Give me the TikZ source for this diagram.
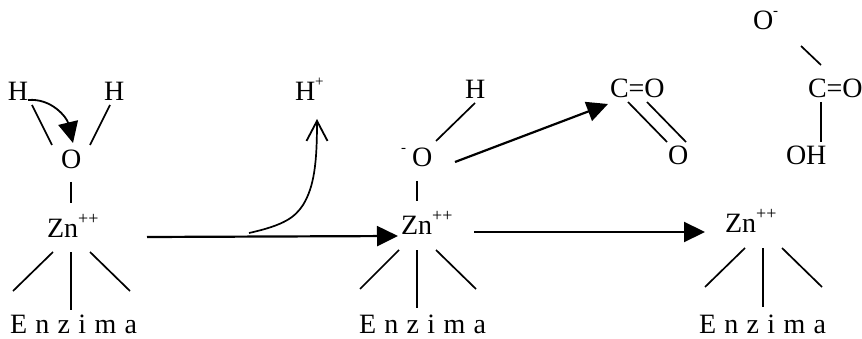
\documentclass[tikz,border=0pt]{standalone}
\usepackage{fontspec}
\setmainfont{Liberation Serif}
\usetikzlibrary{arrows.meta}
\newcommand{\supa}[1]{\raisebox{13pt}{\fontsize{18}{18}\selectfont #1}}
\newcommand{\supb}[1]{\raisebox{14pt}{\fontsize{15}{15}\selectfont #1}}
\newcommand{\spaced}{\spaceskip=8.3pt\relax}
\newcommand{\linkab}[6]{\draw[bond] ([shift={(#2,#3)}]#1.base west) -- ([shift={(#5,#6)}]#4.base west);}
\tikzset{
  txt/.style={inner sep=0pt,outer sep=0pt,anchor=base west,font=\fontsize{28}{28}\selectfont},
  enz/.style={inner sep=0pt,outer sep=0pt,anchor=base west,font=\fontsize{28}{28}\selectfont},
  bond/.style={line width=1.7pt,black},
  react/.style={line width=2.2pt,black,-{Triangle[length=21pt,width=20pt]}},
  openarrow/.style={line width=1.7pt,black,-{Straight Barb[length=20pt,width=21pt,line width=1.8pt]}},
  push/.style={line width=1.8pt,black,-{Triangle[length=21pt,width=20pt]}}
}
\begin{document}
\begin{tikzpicture}[x=1pt,y=-1pt]
\useasboundingbox (0,0) rectangle (862,339);
\fill[white] (0,0) rectangle (862,339);
% first complex
\node[txt] (h1) at (8,101) {H};
\node[txt] (h2) at (104,101) {H};
\node[txt] (o1) at (61,169) {O};
\node[txt] (zn1) at (47,237) {Zn\supa{++}};
\node[enz] (en1) at (10,333) {\spaced E n z i m a};
% proton
\node[txt] (hp) at (295,101) {H\supb{+}};
% second complex
\node[txt] (h3) at (465,99) {H};
\node[txt] (o2) at (401,167) {\supb{-}\hspace{6pt}O};
\node[txt] (zn2) at (401,234) {Zn\supa{++}};
\node[enz] (en2) at (359,333) {\spaced E n z i m a};
% CO2
\node[txt] (co1) at (610,98) {C=O};
\node[txt] (o3) at (668,165) {O};
% bicarbonate
\node[txt] (om) at (753,30) {O\supb{-}};
\node[txt] (co2) at (808,98) {C=O};
\node[txt] (oh) at (786,165) {OH};
% third complex
\node[txt] (zn3) at (725,233) {Zn\supa{++}};
\node[enz] (en3) at (699,333) {\spaced E n z i m a};
% bonds
\linkab{h1}{24}{4}{o1}{-9}{-24}
\linkab{h2}{6}{4}{o1}{29}{-24}
\linkab{o1}{10}{13}{zn1}{24}{-34}
\linkab{zn1}{6}{15}{en1}{3}{-42}
\linkab{zn1}{24}{15}{en1}{61}{-23}
\linkab{zn1}{43}{15}{en1}{120}{-42}
\linkab{h3}{10}{4}{o2}{35}{-26}
\linkab{o2}{16}{14}{zn2}{16}{-33}
\linkab{zn2}{-2}{16}{en2}{1}{-44}
\linkab{zn2}{16}{16}{en2}{58}{-25}
\linkab{zn2}{35}{16}{en2}{117}{-44}
\linkab{zn3}{20}{15}{en3}{6}{-46}
\linkab{zn3}{38}{15}{en3}{64}{-26}
\linkab{zn3}{57}{15}{en3}{123}{-46}
\linkab{co1}{18}{4}{o3}{-1}{-23}
\linkab{co1}{37}{4}{o3}{18}{-23}
\linkab{om}{48}{16}{co2}{13}{-33}
\linkab{co2}{13}{4}{oh}{35}{-23}
% arrows
\draw[react] ([shift={(100,0)}]zn1.base west) -- ([shift={(-3,2)}]zn2.base west);
\draw[react] ([shift={(73,-2)}]zn2.base west) -- ([shift={(-20,-1)}]zn3.base west);
\draw[react] ([shift={(54,-5)}]o2.base west) -- ([shift={(-2,6)}]co1.base west);
\draw[push] ([shift={(20,-1)}]h1.base west) .. controls +(24,-2) and +(-6,-25) .. ([shift={(12,-26)}]o1.base west);
\coordinate (cstart) at (249,233);
\coordinate (cmid) at (303,205);
\draw[openarrow] (cstart) .. controls +(36,-8) and +(-8,12) .. (cmid) .. controls +(11,-18) and +(0,45) .. ([shift={(22,18)}]hp.base west);
\end{tikzpicture}
\end{document}
